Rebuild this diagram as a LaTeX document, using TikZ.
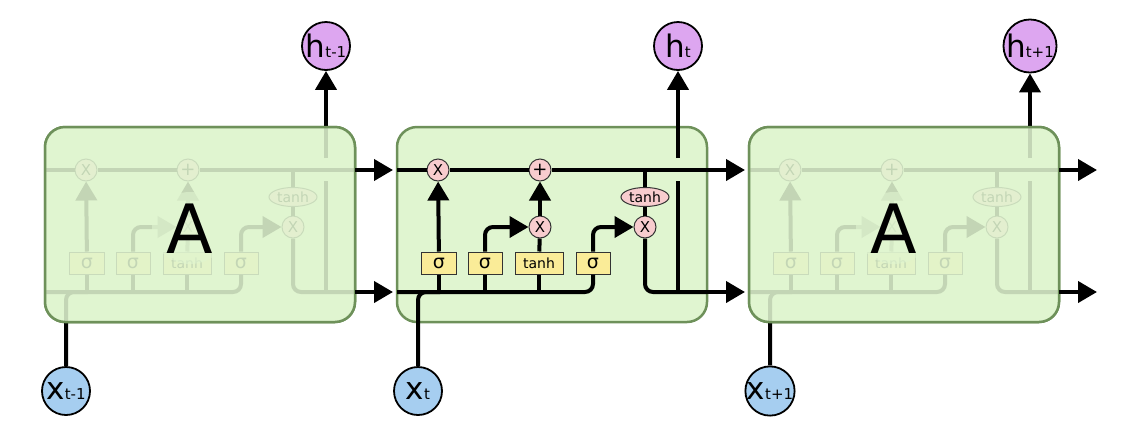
\documentclass[tikz,border=0pt]{standalone}
\usepackage{fontspec}
\setmainfont{DejaVu Sans}
\usetikzlibrary{arrows.meta,shapes.geometric}

\definecolor{boxfill}{RGB}{224,245,208}
\definecolor{boxline}{RGB}{110,145,90}
\definecolor{gatefill}{RGB}{248,204,206}
\definecolor{layerfill}{RGB}{250,236,152}
\definecolor{hfill}{RGB}{221,166,240}
\definecolor{xfill}{RGB}{166,206,240}

\newcommand{\bubbig}{\fontsize{31}{31}\selectfont}
\newcommand{\bubsub}{\fontsize{15}{15}\selectfont}

\tikzset{
	wire/.style = {line width = 4pt, draw = black},
	flow/.style = {wire, -{Triangle[length = 19pt, width = 21pt]}},
	cellbox/.style = {rounded corners = 20pt, line width = 2.5pt, draw = boxline},
	gatenode/.style = {circle, draw = black!80, line width = 1pt, fill = gatefill,
		minimum size = 22pt, inner sep = 0pt, font = \fontsize{15}{15}\selectfont},
	layerbox/.style = {draw = black!80, line width = 1pt, fill = layerfill,
		minimum height = 22pt, inner sep = 0pt},
	tanhnode/.style = {ellipse, draw = black!80, line width = 1pt, fill = gatefill,
		minimum width = 48pt, minimum height = 19pt, inner sep = 0pt,
		font = \fontsize{14}{14}\selectfont},
	iobubble/.style = {circle, draw = black, line width = 1.8pt,
		minimum size = 48pt, inner sep = 0pt}
}

\begin{document}
\begin{tikzpicture}[x = 1pt, y = -1pt]
		\useasboundingbox (0, 0) rectangle (1122, 432);
		% boxes, inputs and outputs
		\foreach \dx/\c/\idx in {-352/L/t-1, 0/M/t, 352/R/t+1}{
			\node[iobubble, fill = hfill] (\c-h) at (678 + \dx, 46) {\bubbig h\bubsub \idx};
			\node[iobubble, fill = xfill] (\c-x) at (418 + \dx, 391) {\bubbig x\bubsub \idx};
			\draw[cellbox, fill = boxfill] (397 + \dx, 127) rectangle (707 + \dx, 322);}
		% inside of each cell
		\foreach \dx/\c in {-352/L, 0/M, 352/R}{
			\coordinate (\c-cl) at (397 + \dx, 170);
			\coordinate (\c-cr) at (707 + \dx, 170);
			\coordinate (\c-hl) at (397 + \dx, 292);
			\coordinate (\c-hr) at (707 + \dx, 292);
			\coordinate (\c-xj) at (440 + \dx, 292);
			\coordinate (\c-hj) at (678 + \dx, 292);
			\coordinate (\c-g1) at (678 + \dx, 181);
			\coordinate (\c-g2) at (678 + \dx, 158);
			\node[gatenode] (\c-f) at (438 + \dx, 170) {X};
			\node[gatenode, font = \fontsize{18}{18}\selectfont] (\c-a) at (540 + \dx, 170) {+};
			\node[gatenode] (\c-i) at (540 + \dx, 227) {X};
			\node[gatenode] (\c-o) at (645 + \dx, 227) {X};
			\node[tanhnode] (\c-th) at (645 + \dx, 197) {tanh};
			\node[layerbox, minimum width = 35pt, font = \fontsize{19}{19}\selectfont] (\c-s1) at (439 + \dx, 263) {σ};
			\node[layerbox, minimum width = 34pt, font = \fontsize{19}{19}\selectfont] (\c-s2) at (485 + \dx, 263) {σ};
			\node[layerbox, minimum width = 48pt, font = \fontsize{14}{14}\selectfont] (\c-tb) at (539 + \dx, 263) {tanh};
			\node[layerbox, minimum width = 34pt, font = \fontsize{19}{19}\selectfont] (\c-s3) at (593 + \dx, 263) {σ};
			\draw[wire] (\c-cl) -- (\c-f) -- (\c-a) -- (\c-cr);
			\draw[wire, rounded corners = 8pt] (\c-hl) -| (\c-s3);
			\draw[wire, rounded corners = 8pt] (\c-x) |- (\c-xj);
			\draw[wire] (\c-s1) -- (\c-s1 |- \c-hl);
			\draw[wire] (\c-s2) -- (\c-s2 |- \c-hl);
			\draw[wire] (\c-tb) -- (\c-tb |- \c-hl);
			\draw[flow] (\c-s1) -- (\c-f);
			\draw[flow, rounded corners = 8pt] (\c-s2) |- (\c-i);
			\draw[wire] (\c-tb) -- (\c-i);
			\draw[flow] (\c-i) -- (\c-a);
			\draw[flow, rounded corners = 8pt] (\c-s3) |- (\c-o);
			\draw[wire] (\c-o |- \c-cl) -- (\c-th);
			\draw[wire] (\c-th) -- (\c-o);
			\draw[wire, rounded corners = 8pt] (\c-o) |- (\c-hr);
			\draw[wire] (\c-hj) -- (\c-g1);
			\draw[flow] (\c-g2) -- (\c-h);}
		% the two outer cells are veiled
		\foreach \dx/\c in {-352/L, 352/R}{
			\draw[cellbox, fill = boxfill, fill opacity = 0.87] (397 + \dx, 127) rectangle (707 + \dx, 322);
			\fill[boxfill, fill opacity = 0.6] (542 + \dx, 228) ellipse (38 and 36);
			\node[anchor = base, font = \fontsize{68}{68}\selectfont] (\c-A) at (542 + \dx, 253) {A};}
		% links between the cells
		\coordinate (end-c) at (1097, 170);
		\coordinate (end-h) at (1097, 292);
		\draw[flow, shorten > = 4pt] (L-cr) -- (M-cl);
		\draw[flow, shorten > = 4pt] (L-hr) -- (M-hl);
		\draw[flow, shorten > = 4pt] (M-cr) -- (R-cl);
		\draw[flow, shorten > = 4pt] (M-hr) -- (R-hl);
		\draw[flow] (R-cr) -- (end-c);
		\draw[flow] (R-hr) -- (end-h);
\end{tikzpicture}
\end{document}
